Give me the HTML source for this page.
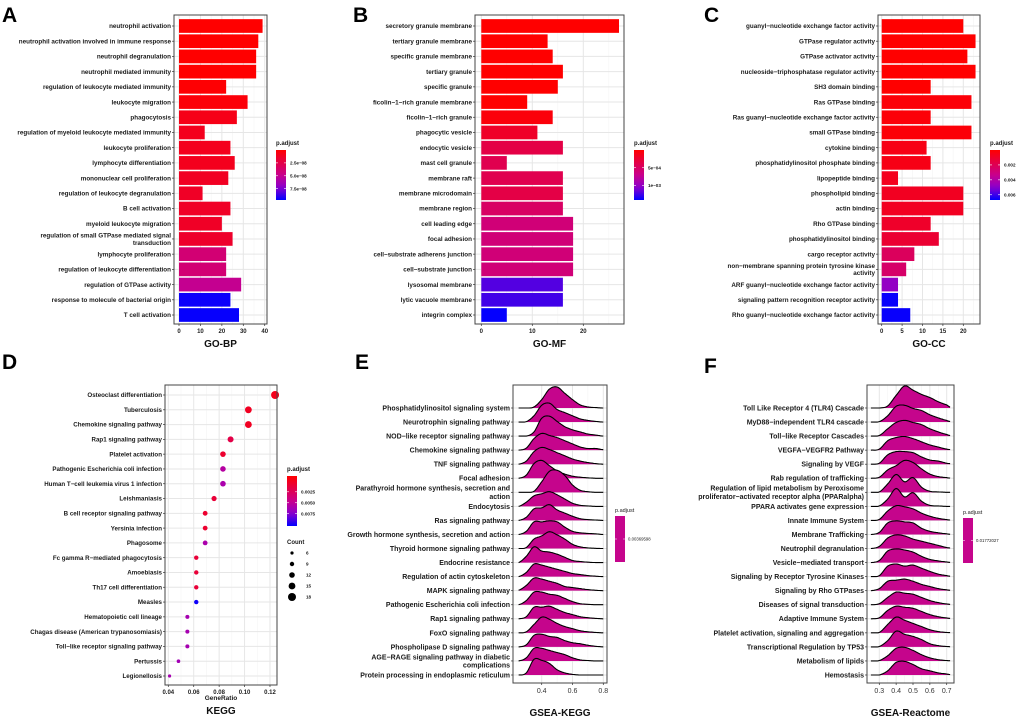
<!DOCTYPE html>
<html><head><meta charset="utf-8"><style>
html,body{margin:0;padding:0;background:#fff;}
svg{display:block;font-family:"Liberation Sans",Arial,sans-serif;}
</style></head><body>
<svg id="chart" width="1020" height="720" viewBox="0 0 1020 720" xmlns="http://www.w3.org/2000/svg"></svg>
<script>
// ---------- DATA ----------
const aLabels=["neutrophil activation","neutrophil activation involved in immune response","neutrophil degranulation","neutrophil mediated immunity","regulation of leukocyte mediated immunity","leukocyte migration","phagocytosis","regulation of myeloid leukocyte mediated immunity","leukocyte proliferation","lymphocyte differentiation","mononuclear cell proliferation","regulation of leukocyte degranulation","B cell activation","myeloid leukocyte migration","regulation of small GTPase mediated signal\ntransduction","lymphocyte proliferation","regulation of leukocyte differentiation","regulation of GTPase activity","response to molecule of bacterial origin","T cell activation"];
const aValues=[39,37,36,36,22,32,27,12,24,26,23,11,24,20,25,22,22,29,24,28];
const aPadj=[0,0,0,0,0.1e-8,0.3e-8,0.8e-8,1e-8,1e-8,1e-8,1.2e-8,1.3e-8,1.3e-8,1.3e-8,1.5e-8,4e-8,4e-8,5e-8,9.5e-8,9.6e-8];
const aTicks=[0,10,20,30,40];
const aLegendTicks=[2.5e-8,5e-8,7.5e-8];
const aLegendText=["2.5e−08","5.0e−08","7.5e−08"];

const bLabels=["secretory granule membrane","tertiary granule membrane","specific granule membrane","tertiary granule","specific granule","ficolin−1−rich granule membrane","ficolin−1−rich granule","phagocytic vesicle","endocytic vesicle","mast cell granule","membrane raft","membrane microdomain","membrane region","cell leading edge","focal adhesion","cell−substrate adherens junction","cell−substrate junction","lysosomal membrane","lytic vacuole membrane","integrin complex"];
const bValues=[27,13,14,16,15,9,14,11,16,5,16,16,16,18,18,18,18,16,16,5];
const bPadj=[0,0,0,0,0,0,0.5e-4,2e-4,3.5e-4,4e-4,4e-4,3.5e-4,5e-4,6e-4,6e-4,6e-4,6e-4,1.2e-3,1.25e-3,1.4e-3];
const bTicks=[0,10,20];
const bLegendTicks=[5e-4,1e-3];
const bLegendText=["5e−04","1e−03"];

const cLabels=["guanyl−nucleotide exchange factor activity","GTPase regulator activity","GTPase activator activity","nucleoside−triphosphatase regulator activity","SH3 domain binding","Ras GTPase binding","Ras guanyl−nucleotide exchange factor activity","small GTPase binding","cytokine binding","phosphatidylinositol phosphate binding","lipopeptide binding","phospholipid binding","actin binding","Rho GTPase binding","phosphatidylinositol binding","cargo receptor activity","non−membrane spanning protein tyrosine kinase\nactivity","ARF guanyl−nucleotide exchange factor activity","signaling pattern recognition receptor activity","Rho guanyl−nucleotide exchange factor activity"];
const cValues=[20,23,21,23,12,22,12,22,11,12,4,20,20,12,14,8,6,4,4,7];
const cPadj=[0,0,0,0,0,0.0002,0.0002,0.0002,0.0005,0.0005,0.0007,0.0008,0.0008,0.001,0.0012,0.0022,0.0025,0.0048,0.0066,0.0066];
const cTicks=[0,5,10,15,20];
const cLegendTicks=[0.002,0.004,0.006];
const cLegendText=["0.002","0.004","0.006"];

const dLabels=["Osteoclast differentiation","Tuberculosis","Chemokine signaling pathway","Rap1 signaling pathway","Platelet activation","Pathogenic Escherichia coli infection","Human T−cell leukemia virus 1 infection","Leishmaniasis","B cell receptor signaling pathway","Yersinia infection","Phagosome","Fc gamma R−mediated phagocytosis","Amoebiasis","Th17 cell differentiation","Measles","Hematopoietic cell lineage","Chagas disease (American trypanosomiasis)","Toll−like receptor signaling pathway","Pertussis","Legionellosis"];
const dRatio=[0.124,0.103,0.103,0.089,0.083,0.083,0.083,0.076,0.069,0.069,0.069,0.062,0.062,0.062,0.062,0.055,0.055,0.055,0.048,0.041];
const dCount=[18,15,15,13,12,12,12,11,10,10,10,9,9,9,9,8,8,8,7,6];
const dPadj=[0,0.0003,0.0003,0.0018,0.0008,0.0055,0.006,0.0012,0.0008,0.0008,0.006,0.0012,0.0012,0.0012,0.0100,0.0062,0.0062,0.0062,0.0064,0.0062];
const dTicks=[0.04,0.06,0.08,0.10,0.12];
const dTickText=["0.04","0.06","0.08","0.10","0.12"];
const dLegendTicks=[0.0025,0.0050,0.0075];
const dLegendText=["0.0025","0.0050","0.0075"];
const dCountLegend=[6,9,12,15,18];

const eLabels=["Phosphatidylinositol signaling system","Neurotrophin signaling pathway","NOD−like receptor signaling pathway","Chemokine signaling pathway","TNF signaling pathway","Focal adhesion","Parathyroid hormone synthesis, secretion and\naction","Endocytosis","Ras signaling pathway","Growth hormone synthesis, secretion and action","Thyroid hormone signaling pathway","Endocrine resistance","Regulation of actin cytoskeleton","MAPK signaling pathway","Pathogenic Escherichia coli infection","Rap1 signaling pathway","FoxO signaling pathway","Phospholipase D signaling pathway","AGE−RAGE signaling pathway in diabetic\ncomplications","Protein processing in endoplasmic reticulum"];
const eGrid=[0.25,0.3,0.35,0.4,0.45,0.5,0.55,0.6,0.65,0.7,0.75,0.8];
const eDens=[
[0,0,0.05,0.4,0.9,1.0,0.7,0.4,0.15,0.05,0.02,0],
[0,0.02,0.3,0.8,0.9,0.6,0.45,0.3,0.15,0.08,0.03,0],
[0,0,0.2,0.85,0.95,0.7,0.45,0.3,0.2,0.1,0.05,0],
[0,0.1,0.55,0.8,0.7,0.6,0.45,0.3,0.15,0.08,0.08,0.02],
[0,0.15,0.6,0.8,0.7,0.55,0.4,0.25,0.15,0.08,0.03,0],
[0,0.15,0.7,0.85,0.6,0.35,0.2,0.1,0.05,0.02,0,0],
[0,0,0.05,0.5,1.0,1.05,0.8,0.35,0.1,0.03,0,0],
[0,0.2,0.5,0.6,0.7,0.55,0.35,0.15,0.05,0.02,0,0],
[0,0.15,0.55,0.6,0.75,0.5,0.35,0.2,0.08,0.04,0.02,0],
[0,0.15,0.6,0.6,0.65,0.6,0.35,0.15,0.08,0.05,0.03,0],
[0,0.05,0.45,0.6,0.8,0.65,0.45,0.2,0.08,0.03,0.01,0],
[0,0.3,0.75,0.55,0.5,0.4,0.25,0.1,0.05,0.02,0,0],
[0,0.2,0.6,0.55,0.45,0.35,0.25,0.15,0.1,0.05,0.02,0],
[0.02,0.25,0.6,0.55,0.45,0.35,0.2,0.15,0.1,0.05,0.02,0],
[0,0.2,0.6,0.6,0.5,0.45,0.3,0.15,0.05,0.02,0,0],
[0,0.1,0.55,0.55,0.6,0.45,0.3,0.2,0.1,0.05,0.02,0],
[0,0.05,0.4,0.75,0.65,0.45,0.3,0.2,0.1,0.05,0.02,0],
[0,0.1,0.55,0.6,0.5,0.45,0.3,0.2,0.15,0.08,0.03,0],
[0,0.15,0.6,0.6,0.5,0.4,0.3,0.15,0.05,0.02,0,0],
[0,0.1,0.75,0.7,0.55,0.25,0.1,0.03,0,0,0,0]];
const eTicks=[0.4,0.6,0.8];
const eTickText=["0.4","0.6","0.8"];
const ePadjText="0.00369598";

const fLabels=["Toll Like Receptor 4 (TLR4) Cascade","MyD88−independent TLR4 cascade","Toll−like Receptor Cascades","VEGFA−VEGFR2 Pathway","Signaling by VEGF","Rab regulation of trafficking","Regulation of lipid metabolism by Peroxisome\nproliferator−activated receptor alpha (PPARalpha)","PPARA activates gene expression","Innate Immune System","Membrane Trafficking","Neutrophil degranulation","Vesicle−mediated transport","Signaling by Receptor Tyrosine Kinases","Signaling by Rho GTPases","Diseases of signal transduction","Adaptive Immune System","Platelet activation, signaling and aggregation","Transcriptional Regulation by TP53","Metabolism of lipids","Hemostasis"];
const fGrid=[0.25,0.3,0.35,0.4,0.45,0.5,0.55,0.6,0.65,0.7,0.72];
const fDens=[
[0,0,0.1,0.6,1.05,0.85,0.65,0.5,0.3,0.15,0.05],
[0,0.02,0.3,0.75,0.8,0.65,0.55,0.35,0.2,0.08,0.03],
[0,0.03,0.35,0.65,0.75,0.65,0.55,0.35,0.2,0.08,0.03],
[0,0.05,0.45,0.6,0.65,0.55,0.4,0.25,0.15,0.05,0.03],
[0,0.05,0.45,0.6,0.6,0.55,0.35,0.2,0.15,0.05,0.03],
[0,0.05,0.4,0.6,0.85,0.75,0.45,0.2,0.08,0.03,0.01],
[0,0.02,0.4,0.85,0.5,0.7,0.25,0.05,0.02,0,0],
[0,0.02,0.35,0.85,0.45,0.65,0.25,0.05,0.02,0,0],
[0,0.05,0.45,0.7,0.65,0.55,0.35,0.2,0.1,0.04,0.02],
[0,0.1,0.55,0.65,0.6,0.55,0.3,0.15,0.08,0.03,0.01],
[0,0.1,0.5,0.65,0.6,0.45,0.35,0.25,0.15,0.05,0.03],
[0,0.1,0.55,0.65,0.6,0.5,0.3,0.15,0.08,0.03,0.01],
[0,0.05,0.5,0.6,0.5,0.55,0.4,0.25,0.12,0.05,0.02],
[0,0.1,0.45,0.5,0.55,0.45,0.3,0.2,0.1,0.04,0.02],
[0,0.05,0.35,0.6,0.55,0.5,0.35,0.2,0.1,0.04,0.02],
[0,0.05,0.4,0.6,0.55,0.5,0.35,0.2,0.1,0.04,0.02],
[0,0.02,0.4,0.75,0.6,0.45,0.3,0.15,0.06,0.02,0.01],
[0,0.02,0.3,0.75,0.6,0.5,0.35,0.15,0.06,0.02,0.01],
[0,0.02,0.25,0.6,0.65,0.5,0.3,0.15,0.06,0.02,0.01],
[0,0,0.2,0.6,0.65,0.5,0.3,0.2,0.1,0.05,0.02]];
const fTicks=[0.3,0.4,0.5,0.6,0.7];
const fTickText=["0.3","0.4","0.5","0.6","0.7"];
const fPadjText="0.01772027";

// ---------- HELPERS ----------
const NS="http://www.w3.org/2000/svg";
const svg=document.getElementById('chart');
function mk(tag,attrs,parent){const e=document.createElementNS(NS,tag);for(const k in attrs)e.setAttribute(k,attrs[k]);(parent||svg).appendChild(e);return e;}
function txt(str,x,y,size,anchor,weight,parent,fill){const t=mk('text',{x:x,y:y,'font-size':size,'text-anchor':anchor||'start','font-weight':weight||'bold',fill:fill||'#1a1a1a'},parent);t.textContent=str;return t;}
const stops=[[0,[255,0,0]],[0.5,[200,0,140]],[0.75,[140,0,205]],[1,[0,0,255]]];
function col(t){t=Math.max(0,Math.min(1,t));for(let i=1;i<stops.length;i++){if(t<=stops[i][0]){const a=stops[i-1],b=stops[i];const u=(t-a[0])/(b[0]-a[0]);const c=a[1].map((v,j)=>Math.round(v+(b[1][j]-v)*u));return 'rgb('+c.join(',')+')';}}return 'rgb(0,0,255)';}
function rowLabel(g,str,x,y,size){const lines=str.split('\n');const lh=size*1.15;const y0=y-(lines.length-1)*lh/2+size*0.35;lines.forEach((ln,i)=>{const t=txt(ln,x,y0+i*lh,size,'end','bold',g);

});}
function panelLetter(ch,x,y){const t=txt(ch,x,y,21,'start','bold');


t.setAttribute('fill','#000');}
function colorbar(g,L,ticks,texts,pLo,pHi,fsz){
  const id='grad'+L.id;const defs=mk('defs',{},g);const lg=mk('linearGradient',{id:id,x1:0,y1:0,x2:0,y2:1},defs);
  for(let i=0;i<=10;i++){mk('stop',{offset:i/10,'stop-color':col(i/10)},lg);}
  const tt=txt('p.adjust',L.cbX,L.cbTop-5,6,'start','bold',g);
  
  
  const r=mk('rect',{x:L.cbX,y:L.cbTop,width:10,height:L.cbH,fill:'url(#'+id+')'},g);
  
  
  ticks.forEach((v,i)=>{const y=L.cbTop+(v-pLo)/(pHi-pLo)*L.cbH;
    const tk=mk('line',{x1:L.cbX,x2:L.cbX+2,y1:y,y2:y,stroke:'#fff','stroke-width':0.6},g);
    
    
    const tk2=mk('line',{x1:L.cbX+8,x2:L.cbX+10,y1:y,y2:y,stroke:'#fff','stroke-width':0.6},g);
    
    
    const lt=txt(texts[i],L.cbX+14,y+1.6,fsz||4.6,'start','bold',g);
    
    });
}
function frame(g,L,ticks,tickText,xf,minorVals,nrows,ry){
  const bg=mk('rect',{x:L.left,y:L.top,width:L.right-L.left,height:L.bottom-L.top,fill:'#fff'},g);
  
  
  minorVals.forEach(v=>{const x=xf(v);if(x>L.left&&x<L.right){const l=mk('line',{x1:x,x2:x,y1:L.top,y2:L.bottom,stroke:'#f4f4f4','stroke-width':0.6},g);
    
    }});
  ticks.forEach(v=>{const x=xf(v);const l=mk('line',{x1:x,x2:x,y1:L.top,y2:L.bottom,stroke:'#e6e6e6','stroke-width':1},g);
    
    });
  for(let i=0;i<nrows;i++){const y=ry(i);const l=mk('line',{x1:L.left,x2:L.right,y1:y,y2:y,stroke:'#e6e6e6','stroke-width':1},g);
    
    }
}
function axes(g,L,ticks,tickText,xf,nrows,ry,labels,lsz,tsz,tw,tfill){
  const bd=mk('rect',{x:L.left,y:L.top,width:L.right-L.left,height:L.bottom-L.top,fill:'none',stroke:'#444','stroke-width':1},g);
  
  
  for(let i=0;i<nrows;i++){const y=ry(i);const tk=mk('line',{x1:L.left-2,x2:L.left,y1:y,y2:y,stroke:'#333','stroke-width':0.7},g);
    
    
    rowLabel(g,labels[i],L.left-3,y,lsz);}
  ticks.forEach((v,i)=>{const x=xf(v);const tk=mk('line',{x1:x,x2:x,y1:L.bottom,y2:L.bottom+2,stroke:'#333','stroke-width':0.7},g);
    
    
    const t=txt(tickText[i],x,L.bottom+3+tsz,tsz,'middle',tw,g,tfill);
    
    });
  const tl=txt(L.title,(L.left+L.right)/2,L.titleY,10,'middle','bold',g,'#111');
  
  
}
function barPanel(L,labels,values,padj,ticks,lt,ltext){
  const g=mk('g',{});
  
  
  const xf=v=>L.x0+v*L.k;
  const ry=i=>L.y1+i*(L.yN-L.y1)/(labels.length-1);
  const step=(L.yN-L.y1)/(labels.length-1);
  const minor=[];for(let i=0;i<ticks.length;i++)minor.push(ticks[i]+(ticks[1]-ticks[0])/2);
  frame(g,L,ticks,ticks.map(String),xf,minor,labels.length,ry);
  values.forEach((v,i)=>{const y=ry(i);const b=mk('rect',{x:xf(0),y:y-step*0.45,width:xf(v)-xf(0),height:step*0.9,fill:col((padj[i]-L.pLo)/(L.pHi-L.pLo))},g);
    
    });
  axes(g,L,ticks,ticks.map(String),xf,labels.length,ry,labels,6.3,6,'bold','#222');
  colorbar(g,L,lt,ltext,L.pLo,L.pHi);
}
barPanel({name:'panel-a-go-bp',id:'a',left:174,right:267,top:15,bottom:324,x0:179,k:2.143,y1:26,yN:315,title:'GO-BP',titleY:347,pLo:0,pHi:9.7e-8,cbX:276,cbTop:150,cbH:50},aLabels,aValues,aPadj,aTicks,aLegendTicks,aLegendText);
barPanel({name:'panel-b-go-mf',id:'b',left:475,right:624,top:15,bottom:324,x0:481.3,k:5.1,y1:26,yN:315,title:'GO-MF',titleY:347,pLo:0,pHi:1.41e-3,cbX:634,cbTop:150,cbH:50},bLabels,bValues,bPadj,bTicks,bLegendTicks,bLegendText);
barPanel({name:'panel-c-go-cc',id:'c',left:878,right:980,top:15,bottom:324,x0:881.7,k:4.08,y1:26,yN:315,title:'GO-CC',titleY:347,pLo:0,pHi:0.0067,cbX:990,cbTop:150,cbH:50},cLabels,cValues,cPadj,cTicks,cLegendTicks,cLegendText);

// ---------- D dot plot ----------
(function(){
  const L={left:165,right:277,top:385,bottom:685,title:'KEGG',titleY:714,cbX:287,cbTop:476,cbH:50,id:'d'};
  const g=mk('g',{});
  
  
  const xf=v=>168.3+(v-0.04)*1271;
  const ry=i=>395+i*(676-395)/(dLabels.length-1);
  frame(g,L,dTicks,dTickText,xf,[0.05,0.07,0.09,0.11],dLabels.length,ry);
  const pLo=-0.0011,pHi=0.0103;
  const rf=c=>1.6+(c-6)*0.2;
  dRatio.forEach((v,i)=>{const c=mk('circle',{cx:xf(v),cy:ry(i),r:rf(dCount[i]),fill:col((dPadj[i]-pLo)/(pHi-pLo))},g);
    
    });
  axes(g,L,dTicks,dTickText,xf,dLabels.length,ry,dLabels,6.2,6,'bold','#222');
  const xt=txt('GeneRatio',221,700,6.5,'middle','bold',g);
  
  
  colorbar(g,L,dLegendTicks,dLegendText,pLo,pHi);
  const ct=txt('Count',287,544,6,'start','bold',g);
  
  
  dCountLegend.forEach((c,i)=>{const y=553+i*11;const d=mk('circle',{cx:292,cy:y,r:rf(c),fill:'#000'},g);
    
    
    const t=txt(String(c),306,y+1.6,4.6,'start','bold',g);
    
    });
})();

// ---------- ridge panels ----------
function ridgePanel(L,labels,grid,dens,ticks,tickText,ptext){
  const g=mk('g',{});
  
  
  const xf=v=>L.x0+(v-L.v0)*L.k;
  const ry=i=>L.y1+i*(L.yN-L.y1)/(labels.length-1);
  const minor=[];for(let i=0;i<ticks.length;i++)minor.push(ticks[i]+(ticks[1]-ticks[0])/2);
  frame(g,L,ticks,tickText,xf,minor,labels.length,ry);
  dens.forEach((d,i)=>{
    const base=ry(i);const pts=[];
    for(let j=0;j<grid.length-1;j++){
      const p0=d[Math.max(0,j-1)],p1=d[j],p2=d[j+1],p3=d[Math.min(d.length-1,j+2)];
      for(let s=0;s<8;s++){const t=s/8;
        const v=0.5*((2*p1)+(-p0+p2)*t+(2*p0-5*p1+4*p2-p3)*t*t+(-p0+3*p1-3*p2+p3)*t*t*t);
        pts.push([xf(grid[j]+(grid[j+1]-grid[j])*t),base-Math.max(0,v)*L.h]);}
    }
    pts.push([xf(grid[grid.length-1]),base-Math.max(0,d[d.length-1])*L.h]);
    const line=pts.map((p,k)=>(k?'L':'M')+p[0].toFixed(1)+','+p[1].toFixed(1)).join('');
    const area=mk('path',{d:line+'L'+xf(grid[grid.length-1]).toFixed(1)+','+base+'L'+xf(grid[0]).toFixed(1)+','+base+'Z',fill:'#C5058C',stroke:'none'},g);
    
    
    const ol=mk('path',{d:line,fill:'none',stroke:'#000','stroke-width':1.1},g);
    
    
  });
  axes(g,L,ticks,tickText,xf,labels.length,ry,labels,7,7,'normal','#333');
  const pt=txt('p.adjust',L.cbX,L.cbTop-4,5.5,'start','normal',g);
  
  
  const cb=mk('rect',{x:L.cbX,y:L.cbTop,width:10,height:L.cbH,fill:'#C5058C'},g);
  
  
  const ym=L.cbTop+L.cbH/2;
  const tk=mk('line',{x1:L.cbX,x2:L.cbX+10,y1:ym,y2:ym,stroke:'#fff','stroke-width':0.5,'stroke-dasharray':'2,6'},g);
  
  
  const vl=txt(ptext,L.cbX+13,ym+1.5,4.3,'start','normal',g);
  
  
}
ridgePanel({name:'panel-e-gsea-kegg',left:513,right:607,top:385,bottom:683,x0:541.7,v0:0.4,k:154,y1:408,yN:675,h:21,title:'GSEA-KEGG',titleY:716,cbX:615,cbTop:516,cbH:46},eLabels,eGrid,eDens,eTicks,eTickText,ePadjText);
ridgePanel({name:'panel-f-gsea-reactome',left:867,right:954,top:385,bottom:683,x0:879.3,v0:0.3,k:168.5,y1:408,yN:675,h:21,title:'GSEA-Reactome',titleY:716,cbX:963,cbTop:518,cbH:45},fLabels,fGrid,fDens,fTicks,fTickText,fPadjText);

panelLetter('A',2,22);
panelLetter('B',353,22);
panelLetter('C',704,22);
panelLetter('D',2,369);
panelLetter('E',355,369);
panelLetter('F',704,373);
</script>
</body></html>
